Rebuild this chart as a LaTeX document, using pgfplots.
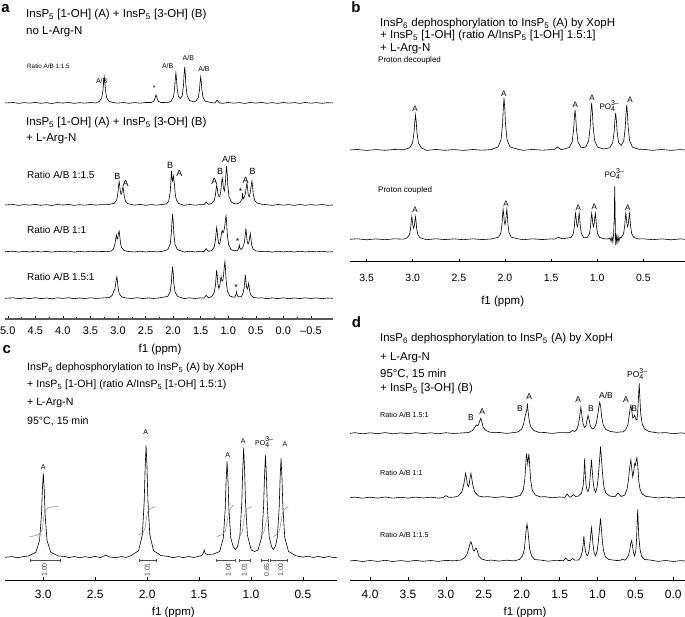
\documentclass[border=0pt]{standalone}
\usepackage{pgfplots}
\pgfplotsset{compat=1.18}
\usepackage{fontspec}
\setmainfont{Liberation Sans}

\newcommand{\fs}[1]{\fontsize{#1}{#1}\selectfont}
\newcommand{\sub}[1]{\textsubscript{#1}}
\newcommand{\po}{PO\raisebox{-0.5ex}{\scriptsize\renewcommand{\arraystretch}{0.75}\begin{tabular}[b]{@{}l@{}}3–\\4\end{tabular}}}

\pgfplotsset{
  nmr/.style={
    scale only axis, clip=false, enlargelimits=false,
    anchor=south west,
    axis x line=bottom, axis y line=none,
    x dir=reverse,
    axis line style={-, line width=0.7pt},
    tick align=inside,
    major tick length=3pt, minor tick length=2pt,
    every tick/.style={black, line width=0.5pt},
    xticklabel style={font=\fs{11}, yshift=-7pt},
  },
  spec/.style={black, line width=0.6pt, no markers},
  integ/.style={black!45, line width=0.5pt, no markers, smooth},
  brack/.style={black!70, line width=0.5pt, no markers},
}

\begin{document}
\begin{tikzpicture}[x=1pt,y=1pt]
\useasboundingbox (0,0) rectangle (685,617);
\tikzset{tl/.style={anchor=west, inner sep=0pt}, pk/.style={inner sep=0pt}}

% ---------------- panel a ----------------
\begin{axis}[nmr, at={(5pt,298pt)}, width=328pt, height=259pt,
  xmin=-0.9, xmax=5.05, ymin=298, ymax=557,
  axis line style={-, line width=1.2pt, black!65},
  xticklabel style={yshift=3pt},
  xtick={5,4.5,4,3.5,3,2.5,2,1.5,1,0.5,0,-0.5},
  xticklabels={5.0,4.5,4.0,3.5,3.0,2.5,2.0,1.5,1.0,0.5,0.0,–0.5},
  minor x tick num=1]
% no L-Arg-N, ratio 1:1.5
\addplot[spec] coordinates {
(5.05,514) (4.9,514.5) (4.8,513.6) (4.7,514.4) (4.6,513.8) (4.5,514.6) (4.4,513.7) (4.3,514.3) (4.2,513.5) (4.1,514.5) (4.0,513.9) (3.9,514.6) (3.8,513.6) (3.7,514.3) (3.6,513.8) (3.5,514.5) (3.4,514) (3.338,515.6) (3.294,519.2) (3.272,527) (3.261,534.8) (3.25,540) (3.239,534.8) (3.228,527) (3.206,519.2) (3.162,515.6) (3.1,514.6) (3.0,513.8) (2.9,514.5) (2.8,513.7) (2.7,514.4) (2.6,513.8) (2.5,514.5) (2.398,514.5) (2.354,515.6) (2.332,518) (2.321,520.4) (2.31,522) (2.299,520.4) (2.288,518) (2.266,515.6) (2.222,514.5) (2.1,514.4) (2.038,515.8) (1.994,520) (1.972,529) (1.961,538) (1.95,544) (1.939,538) (1.928,529) (1.906,520.5) (1.87,518.6) (1.834,521.2) (1.812,532) (1.801,542.8) (1.79,550) (1.779,542.8) (1.768,532) (1.746,521.2) (1.702,516.5) (1.65,515.5) (1.588,515.8) (1.544,519.2) (1.522,527) (1.511,534.8) (1.5,540) (1.489,534.8) (1.478,527) (1.456,519.2) (1.412,515.6) (1.3,514.3) (1.24,514) (1.2,517) (1.16,514) (1.1,513.7) (1.0,514.5) (0.9,513.8) (0.8,514.4) (0.7,513.6) (0.6,514.5) (0.5,513.9) (0.4,514.6) (0.3,513.7) (0.2,514.3) (0.1,513.6) (0,514.5) (-0.1,513.8) (-0.2,514.4) (-0.3,513.6) (-0.4,514.5) (-0.5,513.8) (-0.6,514.4) (-0.7,513.7) (-0.8,514.3) (-0.9,514)
};
% + L-Arg-N, ratio 1:1.5
\addplot[spec] coordinates {
(5.05,412) (4.9,412.5) (4.8,411.6) (4.7,412.4) (4.6,411.8) (4.5,412.6) (4.4,411.7) (4.3,412.3) (4.2,411.5) (4.1,412.5) (4.0,411.9) (3.9,412.6) (3.8,411.6) (3.7,412.3) (3.6,411.8) (3.5,412.5) (3.4,411.9) (3.3,412.4) (3.2,412.3) (3.068,413.6) (3.024,417) (3.002,423.9) (2.991,430.7) (2.98,435.4) (2.969,431.6) (2.958,425.8) (2.945,422.7) (2.932,423.8) (2.921,427.5) (2.91,430) (2.899,426.3) (2.888,421.2) (2.866,416) (2.822,413.3) (2.7,411.8) (2.6,412.6) (2.5,411.7) (2.4,412.4) (2.3,411.8) (2.2,412.5) (2.12,413) (2.08,416) (2.055,424) (2.04,436) (2.03,446) (2.018,438) (2.01,436) (1.995,441) (1.975,432) (1.96,422) (1.94,417) (1.90,413.5) (1.85,412.5) (1.8,411.7) (1.7,412.5) (1.6,411.8) (1.5,412.4) (1.44,412.3) (1.40,415) (1.36,412.6) (1.30,413.6) (1.254,416.6) (1.232,422.3) (1.221,427.9) (1.21,431.8) (1.199,428.6) (1.188,423.7) (1.166,420.2) (1.155,420.4) (1.143,423.5) (1.132,428) (1.121,434) (1.11,439) (1.099,435) (1.088,429) (1.07,426) (1.052,434) (1.041,444.5) (1.03,451) (1.019,443) (1.008,431.5) (0.986,420) (0.942,414.9) (0.90,413.5) (0.86,413) (0.80,414) (0.77,416) (0.75,418) (0.74,424) (0.73,418) (0.715,419) (0.69,423) (0.675,429) (0.66,434) (0.648,428) (0.635,421) (0.615,420.5) (0.60,425) (0.585,431) (0.57,436) (0.558,430) (0.545,422) (0.52,416.5) (0.48,414) (0.40,412.8) (0.3,412.3) (0.2,411.6) (0.1,412.5) (0,411.8) (-0.1,412.4) (-0.2,411.6) (-0.3,412.5) (-0.4,411.7) (-0.5,412.4) (-0.6,411.8) (-0.7,412.5) (-0.8,411.7) (-0.9,412)
};
% ratio 1:1
\addplot[spec] coordinates {
(5.05,365.3) (4.9,365.8) (4.8,364.9) (4.7,365.7) (4.6,365.0) (4.5,365.9) (4.4,365.0) (4.3,365.6) (4.2,364.8) (4.1,365.8) (4.0,365.2) (3.9,365.9) (3.8,364.9) (3.7,365.6) (3.6,365.1) (3.5,365.8) (3.4,365.2) (3.3,365.5) (3.2,365.4) (3.12,366) (3.08,368.5) (3.055,373) (3.04,379) (3.03,382) (3.015,378) (3.005,379) (2.99,384) (2.98,386) (2.968,381) (2.955,374) (2.935,369.5) (2.89,366.5) (2.83,365.6) (2.7,365.0) (2.6,365.9) (2.5,365.0) (2.4,365.7) (2.3,365.1) (2.2,365.6) (2.098,367.3) (2.054,372.6) (2.032,384) (2.021,395.4) (2.01,403) (1.999,395.4) (1.988,384) (1.966,372.6) (1.922,367.3) (1.85,366) (1.8,365.0) (1.7,365.8) (1.6,365.1) (1.5,365.7) (1.44,365.4) (1.40,368.3) (1.36,365.6) (1.30,366.5) (1.254,370) (1.232,377) (1.221,384) (1.21,389.5) (1.199,385) (1.188,378) (1.17,373) (1.155,373) (1.135,379) (1.12,385) (1.11,386.5) (1.095,384) (1.08,386) (1.06,392) (1.05,398) (1.04,401) (1.029,394) (1.018,383) (0.996,373) (0.95,367.5) (0.90,366.2) (0.83,366.3) (0.81,369) (0.80,372) (0.79,369) (0.77,367.5) (0.74,369) (0.71,374) (0.695,380) (0.68,388.5) (0.668,382) (0.655,375) (0.64,373) (0.625,375) (0.61,380) (0.60,383.5) (0.589,378) (0.575,372) (0.55,368) (0.50,366) (0.40,365.5) (0.3,365.7) (0.2,364.9) (0.1,365.8) (0,365.1) (-0.1,365.7) (-0.2,364.9) (-0.3,365.8) (-0.4,365.0) (-0.5,365.7) (-0.6,365.1) (-0.7,365.8) (-0.8,365.0) (-0.9,365.3)
};
% ratio 1.5:1
\addplot[spec] coordinates {
(5.05,318.7) (4.9,319.2) (4.8,318.3) (4.7,319.1) (4.6,318.4) (4.5,319.3) (4.4,318.4) (4.3,319.0) (4.2,318.2) (4.1,319.2) (4.0,318.6) (3.9,319.3) (3.8,318.3) (3.7,319.0) (3.6,318.5) (3.5,319.2) (3.4,318.6) (3.3,318.9) (3.15,319.5) (3.10,322) (3.08,325.5) (3.07,327) (3.06,327) (3.045,332) (3.03,338) (3.02,340.3) (3.009,335) (2.998,329) (2.976,323) (2.93,320) (2.85,319) (2.75,318.5) (2.65,319.3) (2.55,318.4) (2.45,319.1) (2.35,318.5) (2.25,319.1) (2.098,320.6) (2.054,325) (2.032,334.5) (2.021,344) (2.01,350.3) (1.999,344) (1.988,334.5) (1.966,325) (1.922,320.6) (1.85,319.3) (1.8,318.4) (1.7,319.2) (1.6,318.5) (1.5,319.1) (1.44,318.9) (1.40,321.7) (1.36,319.1) (1.30,320.5) (1.254,324.5) (1.232,332) (1.221,340) (1.21,347) (1.199,341) (1.188,333) (1.17,328.5) (1.155,331) (1.14,337) (1.13,340.3) (1.115,336) (1.10,336) (1.085,342) (1.07,351) (1.06,355.3) (1.049,347) (1.038,336) (1.016,326) (0.97,321) (0.92,320) (0.88,319.8) (0.86,322.5) (0.85,325.3) (0.84,322.5) (0.82,320) (0.76,320.5) (0.73,324) (0.71,330) (0.70,336) (0.69,342) (0.679,336) (0.668,330) (0.655,328) (0.643,330) (0.63,333.7) (0.619,329) (0.608,325) (0.586,321.5) (0.54,319.5) (0.45,318.9) (0.4,319.2) (0.3,318.3) (0.2,319.1) (0.1,318.4) (0,319.2) (-0.1,318.3) (-0.2,319.0) (-0.3,318.4) (-0.4,319.2) (-0.5,318.5) (-0.6,319.1) (-0.7,318.3) (-0.8,319.0) (-0.9,318.7)
};
\end{axis}

% panel a texts
\node[pk, font=\fs{15}\bfseries] at (5.5,608) {a};
\node[tl, font=\fs{11.5}] at (26,602) {InsP\sub{5} [1-OH] (A) + InsP\sub{5} [3-OH] (B)};
\node[tl, font=\fs{11.5}] at (26,585) {no L-Arg-N};
\node[tl, font=\fs{6.3}] at (27,551) {Ratio A/B 1:1.5};
\begin{scope}[every node/.style={pk, font=\fs{7}}]
\node at (101.7,536.3) {A/B};
\node at (154.3,528.5) {*};
\node at (167.7,551) {A/B};
\node at (188.3,558.7) {A/B};
\node at (204,547.7) {A/B};
\end{scope}
\node[tl, font=\fs{11.5}] at (26,494) {InsP\sub{5} [1-OH] (A) + InsP\sub{5} [3-OH] (B)};
\node[tl, font=\fs{11.5}] at (26,478) {+ L-Arg-N};
\node[tl, font=\fs{10}] at (27,442) {Ratio A/B 1:1.5};
\node[tl, font=\fs{10}] at (27,387) {Ratio A/B 1:1};
\node[tl, font=\fs{10}] at (27,340) {Ratio A/B 1.5:1};
\begin{scope}[every node/.style={pk, font=\fs{9}}]
\node at (117.3,440.3) {B};
\node at (125.7,433.7) {A};
\node at (170,452) {B};
\node at (179.3,443.7) {A};
\node at (214.3,435.3) {A};
\node at (220,445.3) {B};
\node at (229.3,457.7) {A/B};
\node at (240.7,425.5) {*};
\node at (245.7,437) {A};
\node at (252.7,445.3) {B};
\node at (237.7,376) {*};
\node at (236,329.5) {*};
\end{scope}
\node[pk, font=\fs{11.5}] at (160,267) {f1 (ppm)};

% ---------------- panel b ----------------
\begin{axis}[nmr, at={(350pt,355.3pt)}, width=335pt, height=201.7pt,
  xmin=0.048, xmax=3.68, ymin=355.3, ymax=557,
  xtick={3.5,3,2.5,2,1.5,1,0.5},
  xticklabels={3.5,3.0,2.5,2.0,1.5,1.0,0.5},
  xticklabel style={font=\fs{10.5}, yshift=-2pt}]
% proton decoupled
\addplot[spec] coordinates {
(3.68,467) (3.6,467.5) (3.5,466.6) (3.4,467.4) (3.3,466.7) (3.2,467.5) (3.1,467.2) (3.034,469.1) (3.002,474) (2.986,484.5) (2.978,495) (2.97,502) (2.962,495) (2.954,484.5) (2.938,474) (2.906,469.1) (2.85,466.6) (2.75,467.5) (2.65,466.7) (2.55,467.4) (2.45,466.6) (2.35,467.5) (2.25,466.8) (2.15,467.4) (2.074,470.1) (2.042,477.4) (2.026,493) (2.018,508.6) (2.01,519) (2.002,508.6) (1.994,493) (1.978,477.4) (1.946,470.1) (1.85,467.5) (1.8,466.7) (1.7,467.6) (1.6,466.8) (1.5,467.4) (1.47,467.2) (1.43,470) (1.39,467.3) (1.304,469.4) (1.272,475) (1.256,487) (1.248,499) (1.24,507) (1.232,499) (1.224,487) (1.208,475) (1.176,469.6) (1.15,469.5) (1.124,470) (1.092,476.4) (1.076,490.5) (1.068,504.6) (1.06,514) (1.052,504.6) (1.044,490.5) (1.028,476.4) (0.996,469.8) (0.93,468) (0.864,469.2) (0.832,474.4) (0.816,485.5) (0.808,496.6) (0.80,504) (0.792,496.6) (0.784,485.5) (0.768,474.4) (0.74,471.5) (0.712,476) (0.696,489.5) (0.688,503) (0.68,512) (0.672,503) (0.664,489.5) (0.648,476) (0.616,469.7) (0.55,467.8) (0.5,467.6) (0.4,466.7) (0.3,467.5) (0.2,466.6) (0.1,467.4) (0.048,467)
};
% proton coupled
\addplot[spec] coordinates {
(3.68,377.7) (3.6,378.2) (3.5,377.2) (3.4,378.1) (3.3,377.3) (3.2,378.2) (3.1,377.8) (3.058,379.3) (3.034,382.6) (3.022,389.2) (3.016,395.7) (3.01,400.3) (3.004,396.7) (2.998,391.4) (2.99,388.8) (2.982,391.4) (2.976,396.7) (2.97,400.3) (2.964,395.7) (2.958,389.2) (2.946,382.6) (2.922,379.3) (2.85,377.3) (2.75,378.2) (2.65,377.4) (2.55,378.1) (2.45,377.3) (2.35,378.2) (2.25,377.4) (2.15,378) (2.068,379.8) (2.044,384.2) (2.032,392.9) (2.026,401.6) (2.02,407.7) (2.014,402.9) (2.008,395.9) (2.0,392.4) (1.992,395.9) (1.986,402.9) (1.98,407.7) (1.974,401.6) (1.968,392.9) (1.956,384.2) (1.932,379.8) (1.85,378) (1.8,377.3) (1.7,378.2) (1.6,377.4) (1.5,378.1) (1.46,377.9) (1.42,379.7) (1.38,378.2) (1.283,379.5) (1.259,383.3) (1.247,390.9) (1.241,398.4) (1.235,403.7) (1.229,399.6) (1.223,393.4) (1.215,390.4) (1.207,393.4) (1.201,399.6) (1.195,403.7) (1.189,398.4) (1.183,390.9) (1.171,383.3) (1.147,379.5) (1.13,379.2) (1.108,379.5) (1.084,383.3) (1.072,390.9) (1.066,398.4) (1.06,403.7) (1.054,399.6) (1.048,393.4) (1.04,390.4) (1.032,393.4) (1.026,399.6) (1.02,403.7) (1.014,398.4) (1.008,390.9) (0.996,383.3) (0.972,379.5) (0.93,378.3) (0.88,378) (0.86,379) (0.85,375.5) (0.84,380) (0.83,375) (0.822,383) (0.815,400) (0.81,430.7) (0.805,400) (0.80,372) (0.795,383) (0.785,374) (0.775,381) (0.765,375.5) (0.755,379.5) (0.738,379.5) (0.714,383.3) (0.702,390.9) (0.696,398.4) (0.69,403.7) (0.684,399.6) (0.678,393.4) (0.67,390.4) (0.662,393.4) (0.656,399.6) (0.65,403.7) (0.644,398.4) (0.638,390.9) (0.626,383.3) (0.602,379.5) (0.55,378) (0.5,378.2) (0.4,377.3) (0.3,378.1) (0.2,377.2) (0.1,378.1) (0.048,377.7)
};
\end{axis}

\node[pk, font=\fs{15}\bfseries] at (356,609.5) {b};
\node[tl, font=\fs{11.5}] at (380,593.7) {InsP\sub{6} dephosphorylation to InsP\sub{5} (A) by XopH};
\node[tl, font=\fs{11.5}] at (380,581) {+ InsP\sub{5} [1-OH] (ratio A/InsP\sub{5} [1-OH] 1.5:1]};
\node[tl, font=\fs{11.5}] at (380,568.7) {+ L-Arg-N};
\node[tl, font=\fs{8}] at (378,557) {Proton decoupled};
\node[tl, font=\fs{8}] at (378,427) {Proton coupled};
\begin{scope}[every node/.style={pk, font=\fs{8}}]
\node at (415,508.7) {A};
\node at (503.7,523) {A};
\node at (575.3,512) {A};
\node at (592,519.7) {A};
\node at (630,517.7) {A};
\node[tl] at (599.3,510) {\po};
\node at (415,407) {A};
\node at (506,413.7) {A};
\node at (578.3,409.7) {A};
\node at (594.3,410.3) {A};
\node at (627.7,409.7) {A};
\node[tl] at (604.3,442) {\po};
\end{scope}
\node[pk, font=\fs{11.5}] at (502.7,315.3) {f1 (ppm)};

% ---------------- panel c ----------------
\begin{axis}[nmr, at={(5pt,37pt)}, width=332pt, height=213pt,
  xmin=0.171, xmax=3.369, ymin=37, ymax=250,
  xtick={3,2.5,2,1.5,1,0.5},
  xticklabels={3.0,2.5,2.0,1.5,1.0,0.5},
  xticklabel style={font=\fs{12}}]
\addplot[spec] coordinates {
(3.369,59.7) (3.3,60.4) (3.25,59.2) (3.2,60.3) (3.144,61) (3.072,64.7) (3.036,76.5) (3.018,101.7) (3.009,126.9) (3.0,143.7) (2.991,126.9) (2.982,101.7) (2.964,76.5) (2.928,64.7) (2.856,61) (2.8,60.6) (2.75,59.4) (2.7,60.5) (2.65,59.2) (2.6,60.3) (2.55,59.5) (2.5,60.6) (2.45,59.4) (2.40,61.8) (2.36,60) (2.3,59.3) (2.25,60.4) (2.2,59.6) (2.154,61.4) (2.082,66.3) (2.046,82.1) (2.028,115.7) (2.019,149.3) (2.01,171.7) (2.001,149.3) (1.992,115.7) (1.974,82.1) (1.938,66.3) (1.866,61.4) (1.8,60.6) (1.75,59.3) (1.7,60.4) (1.65,59.4) (1.6,60.5) (1.55,59.5) (1.51,60.5) (1.475,61.5) (1.46,63.5) (1.45,67) (1.44,63.5) (1.42,62.5) (1.36,63) (1.302,65.4) (1.266,78.9) (1.248,107.7) (1.239,136.5) (1.23,155.7) (1.221,136.5) (1.212,107.7) (1.194,78.9) (1.17,70) (1.15,67.5) (1.13,70) (1.106,82) (1.088,114.2) (1.079,146.9) (1.07,169.3) (1.061,146.9) (1.052,114.2) (1.034,82) (0.998,67) (0.965,65.5) (0.932,67) (0.896,80.1) (0.878,110.7) (0.869,141.3) (0.86,161.7) (0.851,141.3) (0.842,110.7) (0.824,80.1) (0.80,70) (0.785,67.5) (0.765,70.5) (0.746,79.5) (0.728,109.2) (0.719,138.9) (0.71,158.7) (0.701,138.9) (0.692,109.2) (0.674,79.5) (0.638,65.5) (0.566,61.2) (0.5,59.9) (0.45,60.8) (0.4,59.5) (0.35,60.6) (0.3,59.4) (0.25,60.5) (0.2,59.3) (0.171,59.7)
};
% integral curves
\addplot[integ] coordinates {(3.135,80) (3.06,82) (3.025,84.5) (3.01,88) (3.0,96) (2.99,104) (2.975,107.5) (2.94,109.5) (2.846,111)};
\addplot[integ] coordinates {(2.085,82) (2.04,84.5) (2.022,88) (2.01,96) (1.998,104) (1.98,107.5) (1.95,109.3) (1.915,110.3)};
\addplot[integ] coordinates {(1.329,80.3) (1.27,83) (1.245,86.5) (1.23,95) (1.215,104) (1.195,108.5) (1.169,112)};
\addplot[integ] coordinates {(1.112,80.3) (1.09,83.5) (1.08,87) (1.07,95) (1.06,103) (1.045,107.5) (0.992,110.3)};
\addplot[integ] coordinates {(0.906,80.3) (0.885,83) (0.87,87) (0.86,92) (0.85,97) (0.835,99.3) (0.823,99.7)};
\addplot[integ] coordinates {(0.787,80.3) (0.745,83) (0.725,87) (0.71,95) (0.695,104) (0.68,107.5) (0.64,110.3)};
% integral brackets
\addplot[brack] coordinates {(3.13,54.8) (3.13,57.8) (3.13,56.3) (2.84,56.3) (2.84,54.8) (2.84,57.8)};
\addplot[brack] coordinates {(2.08,54.8) (2.08,57.8) (2.08,56.3) (1.91,56.3) (1.91,54.8) (1.91,57.8)};
\addplot[brack] coordinates {(1.33,54.8) (1.33,57.8) (1.33,56.3) (1.15,56.3) (1.15,54.8) (1.15,57.8)};
\addplot[brack] coordinates {(1.11,54.8) (1.11,57.8) (1.11,56.3) (1.01,56.3) (1.01,54.8) (1.01,57.8)};
\addplot[brack] coordinates {(0.905,54.8) (0.905,57.8) (0.905,56.3) (0.83,56.3) (0.83,54.8) (0.83,57.8)};
\addplot[brack] coordinates {(0.815,54.8) (0.815,57.8) (0.815,56.3) (0.65,56.3) (0.65,54.8) (0.65,57.8)};
\begin{scope}[every node/.style={inner sep=0pt, rotate=90, anchor=east, font=\fs{7}, black!75}]
\node at (axis cs:2.99,54) {1.00};
\node at (axis cs:2.0,54) {1.01};
\node at (axis cs:1.218,54) {1.04};
\node at (axis cs:1.064,54) {1.01};
\node at (axis cs:0.848,54) {0.65};
\node at (axis cs:0.713,54) {1.00};
\end{scope}
\end{axis}

\node[pk, font=\fs{15}\bfseries] at (6.7,267) {c};
\node[tl, font=\fs{10.6}] at (27,249.3) {InsP\sub{6} dephosphorylation to InsP\sub{5} (A) by XopH};
\node[tl, font=\fs{10.6}] at (27,232) {+ InsP\sub{5} [1-OH] (ratio A/InsP\sub{5} [1-OH] 1.5:1)};
\node[tl, font=\fs{10.6}] at (27,213.7) {+ L-Arg-N};
\node[tl, font=\fs{10.6}] at (27,196) {95°C, 15 min};
\begin{scope}[every node/.style={pk, font=\fs{7}}]
\node at (43.3,149.7) {A};
\node at (145.7,185.3) {A};
\node at (227.7,162) {A};
\node at (243.3,176) {A};
\node at (285,173) {A};
\node[tl] at (255,174) {\po};
\end{scope}
\node[pk, font=\fs{11.5}] at (173.3,4.5) {f1 (ppm)};

% ---------------- panel d ----------------
\begin{axis}[nmr, at={(350pt,37pt)}, width=335pt, height=213pt,
  xmin=-0.154, xmax=4.265, ymin=37, ymax=250,
  xtick={4,3.5,3,2.5,2,1.5,1,0.5,0},
  xticklabels={4.0,3.5,3.0,2.5,2.0,1.5,1.0,0.5,0.0},
  xticklabel style={font=\fs{12}}]
% ratio 1.5:1
\addplot[spec] coordinates {
(4.265,183.7) (4.2,184.3) (4.1,183.2) (4.0,184.2) (3.9,183.3) (3.8,184.4) (3.7,183.2) (3.6,184.1) (3.5,183.3) (3.4,184.3) (3.3,183.4) (3.2,184.2) (3.1,183.2) (3.0,184.3) (2.9,183.5) (2.8,184) (2.70,184.5) (2.65,186.5) (2.62,189.5) (2.60,192) (2.585,191.5) (2.57,192) (2.555,196) (2.54,198.7) (2.525,195) (2.51,190) (2.48,187) (2.43,185) (2.35,184.2) (2.3,184.6) (2.2,183.6) (2.1,184.5) (2.05,185) (2.00,188) (1.975,193) (1.96,199) (1.948,203) (1.935,206) (1.925,213.7) (1.915,205) (1.90,196) (1.88,190) (1.84,186.5) (1.78,184.7) (1.7,184.5) (1.6,183.6) (1.5,184.4) (1.37,184.2) (1.33,186.5) (1.30,185.5) (1.27,188) (1.25,193) (1.235,201) (1.22,209.7) (1.205,201) (1.19,193) (1.17,189.5) (1.155,190.5) (1.14,196) (1.125,201.7) (1.11,197) (1.095,191) (1.07,188) (1.04,189) (1.015,194) (0.995,203) (0.98,211) (0.97,214.7) (0.958,210) (0.945,200) (0.925,192) (0.89,187.5) (0.83,185.5) (0.75,184.7) (0.66,185.2) (0.63,187) (0.60,192) (0.585,200) (0.57,208) (0.56,211.7) (0.548,206) (0.535,199) (0.52,200) (0.51,201.7) (0.495,198) (0.48,197) (0.47,205) (0.458,222) (0.45,233.7) (0.442,220) (0.43,203) (0.41,193) (0.38,188) (0.32,185.5) (0.25,184.6) (0.2,184.0) (0.1,184.4) (0.0,183.3) (-0.1,184.1) (-0.154,183.7)
};
% ratio 1:1
\addplot[spec] coordinates {
(4.265,119.3) (4.2,119.9) (4.1,118.8) (4.0,119.8) (3.9,118.9) (3.8,120) (3.7,118.8) (3.6,119.7) (3.5,118.9) (3.4,119.9) (3.3,119.0) (3.2,119.8) (3.1,118.9) (3.04,119.4) (3.0,121.3) (2.96,119.6) (2.88,120) (2.84,121) (2.79,125) (2.765,132) (2.75,139) (2.74,143.7) (2.73,140) (2.718,133) (2.705,130.3) (2.692,133) (2.68,140) (2.67,143.7) (2.66,139) (2.645,132) (2.62,125) (2.57,121) (2.5,120) (2.45,120.4) (2.35,119.5) (2.25,120.3) (2.15,119.4) (2.1,120) (2.02,121.5) (1.98,127) (1.96,137) (1.947,152) (1.937,163.3) (1.928,158) (1.92,153) (1.912,159) (1.905,163.3) (1.895,152) (1.882,137) (1.862,127) (1.82,122) (1.75,120) (1.7,120.4) (1.6,119.2) (1.5,120) (1.43,119.6) (1.40,123) (1.37,120) (1.35,120) (1.32,122.5) (1.29,120.5) (1.25,121) (1.21,124) (1.19,131) (1.18,141) (1.17,158.7) (1.16,141) (1.15,131) (1.135,126) (1.125,125.5) (1.11,129) (1.10,137) (1.09,147) (1.08,157) (1.07,147) (1.06,137) (1.045,128) (1.025,124.5) (1.005,130) (0.99,140) (0.975,155) (0.96,170.3) (0.945,155) (0.93,140) (0.915,130) (0.89,124) (0.84,121) (0.77,120.2) (0.73,124) (0.69,120.5) (0.64,122) (0.61,128) (0.59,138) (0.575,150) (0.56,157) (0.548,148) (0.535,140) (0.52,147) (0.51,153.3) (0.50,152) (0.49,156) (0.48,159.3) (0.468,150) (0.455,136) (0.44,128) (0.41,123) (0.36,120.5) (0.3,120.1) (0.2,119.0) (0.1,119.9) (0.0,118.9) (-0.1,119.7) (-0.154,119.3)
};
% ratio 1:1.5
\addplot[spec] coordinates {
(4.265,56) (4.2,56.6) (4.1,55.5) (4.0,56.5) (3.9,55.6) (3.8,56.7) (3.7,55.5) (3.6,56.4) (3.5,55.6) (3.4,56.6) (3.3,55.7) (3.2,56.5) (3.1,55.6) (3.0,56.6) (2.9,56.2) (2.80,57) (2.75,59.5) (2.72,63) (2.70,68) (2.685,72.5) (2.67,75.3) (2.655,72) (2.64,67) (2.625,66) (2.61,68.3) (2.60,68.7) (2.585,66) (2.565,61) (2.53,58) (2.46,56.5) (2.4,56.9) (2.3,55.9) (2.2,56.8) (2.1,56.1) (2.03,57.5) (1.99,61) (1.965,68) (1.95,80) (1.94,88) (1.93,93) (1.92,88) (1.91,80) (1.895,68) (1.87,61) (1.83,57.5) (1.75,56.9) (1.65,55.8) (1.55,56.7) (1.45,56.3) (1.42,59) (1.39,56.5) (1.36,56.5) (1.33,58.5) (1.30,56.8) (1.25,57) (1.22,60) (1.20,66) (1.19,72) (1.18,81) (1.17,72) (1.16,66) (1.145,62) (1.13,61.5) (1.115,65) (1.10,74) (1.09,82) (1.08,89.3) (1.07,82) (1.06,73) (1.045,64) (1.025,61) (1.005,66) (0.99,75) (0.975,87) (0.96,98.7) (0.948,87) (0.935,75) (0.92,66) (0.895,60) (0.85,57.5) (0.75,56.5) (0.70,56.6) (0.67,58) (0.64,56.8) (0.62,58) (0.59,62) (0.575,67) (0.56,74) (0.55,76.3) (0.54,72) (0.525,64) (0.51,61) (0.495,66) (0.485,78) (0.477,94) (0.47,107.7) (0.463,94) (0.455,80) (0.44,68) (0.42,61) (0.38,57.5) (0.3,56.9) (0.2,55.6) (0.1,56.5) (0.0,55.5) (-0.1,56.4) (-0.154,56)
};
\end{axis}

\node[pk, font=\fs{15}\bfseries] at (356.5,294.5) {d};
\node[tl, font=\fs{11.4}] at (380,278) {InsP\sub{6} dephosphorylation to InsP\sub{5} (A) by XopH};
\node[tl, font=\fs{11.4}] at (380,259.3) {+ L-Arg-N};
\node[tl, font=\fs{11.4}] at (380,242.7) {95°C, 15 min};
\node[tl, font=\fs{11.4}] at (380,228) {+ InsP\sub{5} [3-OH] (B)};
\node[tl, font=\fs{7.2}] at (380,202) {Ratio A/B 1.5:1};
\node[tl, font=\fs{7.2}] at (380,143.7) {Ratio A/B 1:1};
\node[tl, font=\fs{7.2}] at (380,82) {Ratio A/B 1:1.5};
\begin{scope}[every node/.style={pk, font=\fs{8.5}}]
\node at (471,199) {B};
\node at (482.3,205.3) {A};
\node at (520,208.7) {B};
\node at (529.3,220.3) {A};
\node at (578.3,217) {A};
\node at (591,208) {B};
\node at (606,222) {A/B};
\node at (626,217) {A};
\node at (634.3,208) {B};
\node[tl] at (627,242) {\po};
\end{scope}
\node[pk, font=\fs{11.5}] at (525,4.5) {f1 (ppm)};

\end{tikzpicture}
\end{document}
